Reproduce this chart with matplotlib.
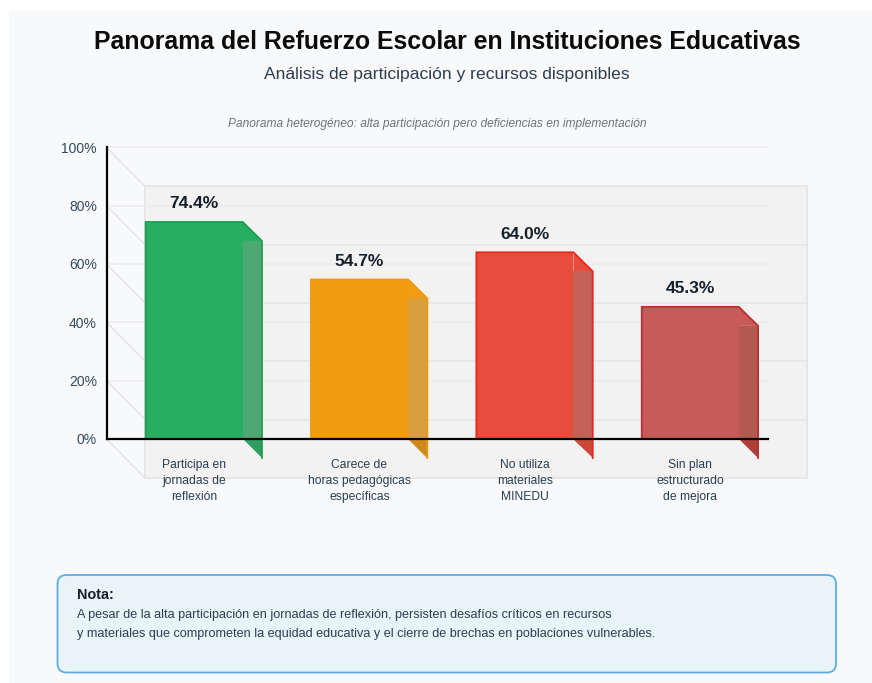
import matplotlib
matplotlib.use("Agg")
import matplotlib.pyplot as plt
from matplotlib.patches import Polygon, Rectangle, FancyBboxPatch

categories = ["Participa en\njornadas de\nreflexión", "Carece de\nhoras pedagógicas\nespecíficas",
              "No utiliza\nmateriales\nMINEDU", "Sin plan\nestructurado\nde mejora"]
values = [74.4, 54.7, 64.0, 45.3]
y_ticks = [0, 20, 40, 60, 80, 100]
bar_colors = ["#27ae60", "#f39c12", "#e74c3c", "#c85a5a"]
edge_colors = ["#1f9e52", "#ee9a0e", "#e8281c", "#b83232"]
side_colors = ["#4ea873", "#d99f3f", "#c4625a", "#b25a50"]
low_colors = ["#2f9d5f", "#cf8a1c", "#c9483a", "#ae3e3a"]

W, H = 872, 683
BAR_W = 97 / 165.3
# wall depth and bar depth, in data units
WALL_DX = 38.5 / 165.3
WALL_DY = 39 / 2.917
BAR_DX = 19.3 / 165.3
BAR_DY = 19 / 2.917

plt.rcParams['font.family'] = ['Liberation Sans', 'DejaVu Sans']

fig = plt.figure(figsize=(W / 100, H / 100), dpi=100, facecolor="white")

# page panel
fig.add_artist(Rectangle((9 / W, 0), 1, 1 - 11 / H, transform=fig.transFigure, fc="#f8f9fb", ec="none", zorder=-5))

# axes placed on the 0-100 scale in pixels
ax = fig.add_axes([106.5 / W, 1 - 439 / H, (768 - 106.5) / W, (439 - 147.3) / H])
ax.set_xlim(-0.53, 3.47)
ax.set_ylim(0, 100)
ax.patch.set_alpha(0)
left, right = ax.get_xlim()

# back wall
ax.add_patch(Rectangle((left + WALL_DX, -WALL_DY), right - left, 100, fc="#f2f2f3", ec="#e6e6e8", lw=1.3,
                       clip_on=False, zorder=1))
for t in y_ticks:
    ax.plot([left + WALL_DX, right + WALL_DX], [t - WALL_DY, t - WALL_DY], color="#e6e6e8", lw=1.2,
            clip_on=False, zorder=1.2)
    ax.plot([left, left + WALL_DX], [t, t - WALL_DY], color="#e4e4e6", lw=1, clip_on=False, zorder=1.2)
    ax.plot([left, right], [t, t], color="#ececee", lw=1.2, clip_on=False, zorder=1.4)

# bars: front, then top corner, side and the part under the axis
for i, v in enumerate(values):
    ax.bar(i, v, width=BAR_W, color=bar_colors[i], zorder=3)
    x0 = i - BAR_W / 2
    x1 = i + BAR_W / 2
    x2 = x1 + BAR_DX
    ax.plot([x0, x0, x1, x2, x2], [0, v, v, v - BAR_DY, -BAR_DY], color=edge_colors[i], lw=1.3, zorder=3.3,
            clip_on=False, solid_joinstyle="miter")
    ax.add_patch(Polygon([(x1, v), (x2, v - BAR_DY), (x1, v - BAR_DY)], fc=bar_colors[i], ec="none", zorder=3.2))
    ax.add_patch(Polygon([(x1, v - BAR_DY), (x2, v - BAR_DY), (x2, 0), (x1, 0)], fc=side_colors[i], ec="none",
                         zorder=3.2))
    ax.add_patch(Polygon([(x1, 0), (x2, 0), (x2, -BAR_DY)], fc=low_colors[i], ec="none", zorder=3.2, clip_on=False))
    ax.text(i, v + 3.6, f"{v:.1f}%", ha="center", va="bottom", fontsize=12.5, fontweight="bold",
            color="#17202a", zorder=5)

for s in ["top", "right"]:
    ax.spines[s].set_visible(False)
ax.spines["left"].set_linewidth(1.6)
ax.spines["bottom"].set_linewidth(1.6)
ax.spines["left"].set_zorder(4)
ax.spines["bottom"].set_zorder(4)

ax.set_yticks(y_ticks)
ax.set_yticklabels([f"{t}%" for t in y_ticks], fontsize=10, color="#34495e")
ax.tick_params(axis="y", length=0, pad=7)
ax.set_xticks(range(len(categories)))
ax.set_xticklabels(categories, fontsize=8.7, color="#2c3e50", linespacing=1.45)
ax.tick_params(axis="x", length=0, pad=14.5)

# headings
fig.text(447 / W, 1 - 42 / H, "Panorama del Refuerzo Escolar en Instituciones Educativas", ha="center", va="center",
         fontsize=17.95, fontweight="bold", color="#0b0b0b")
fig.text(447 / W, 1 - 74 / H, "Análisis de participación y recursos disponibles", ha="center", va="center",
         fontsize=12.6, color="#2c3e50")
fig.text(437 / W, 1 - 124.5 / H, "Panorama heterogéneo: alta participación pero deficiencias en implementación",
         ha="center", va="center", fontsize=8.65, style="italic", color="#6f7376")

# note box
box_ax = fig.add_axes([0, 0, 1, 1])
box_ax.set_xlim(0, W)
box_ax.set_ylim(H, 0)
box_ax.axis("off")
box_ax.add_patch(FancyBboxPatch((57.5, 575), 778.5, 97.5, boxstyle="round,pad=0,rounding_size=9",
                                fc="#e8f4f8", ec="#5dade2", lw=1.3, mutation_aspect=1))
box_ax.text(77, 595, "Nota:", fontsize=10.4, fontweight="bold", color="#17202a", va="center")
box_ax.text(77, 615, "A pesar de la alta participación en jornadas de reflexión, persisten desafíos críticos en recursos",
            fontsize=9.05, color="#2c3e50", va="center")
box_ax.text(77, 634, "y materiales que comprometen la equidad educativa y el cierre de brechas en poblaciones vulnerables.",
            fontsize=9.05, color="#2c3e50", va="center")

fig.savefig("out.png", dpi=100)
